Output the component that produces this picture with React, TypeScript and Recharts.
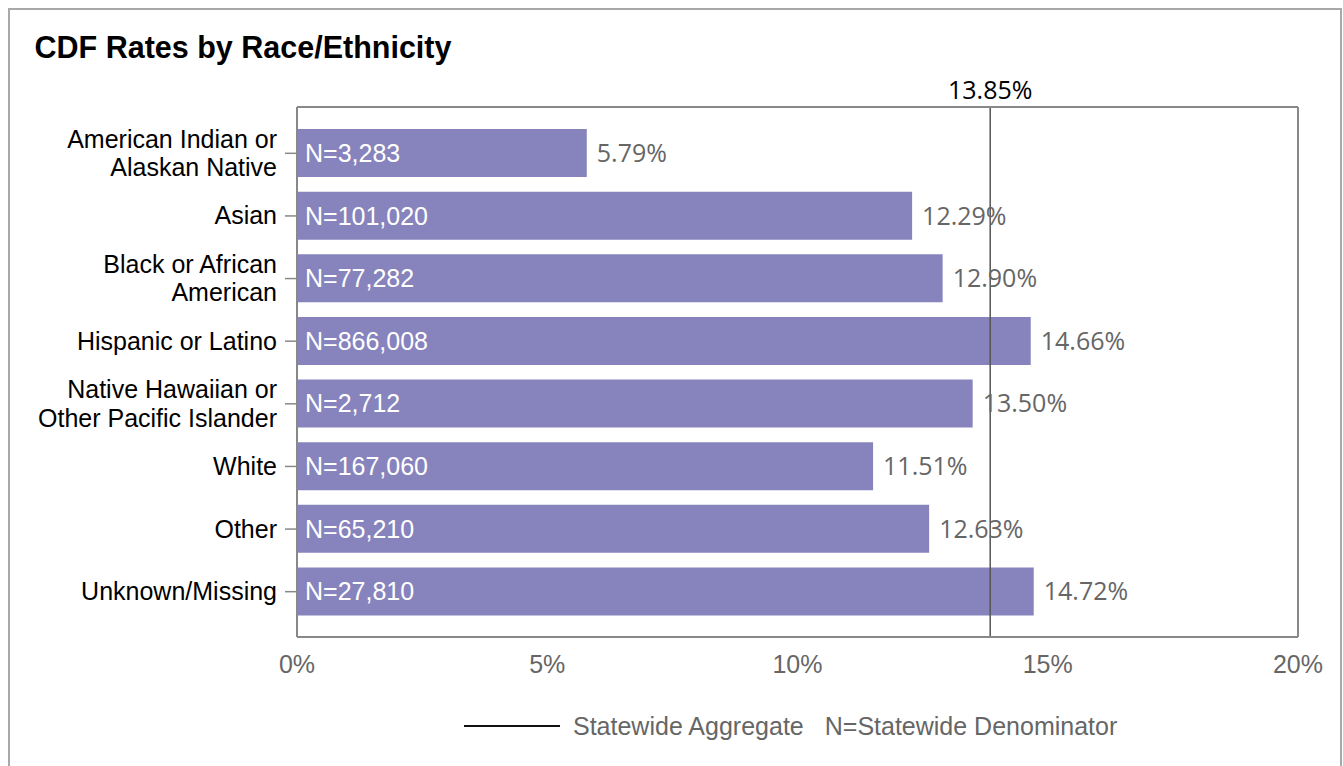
import { BarChart, Bar, XAxis, YAxis, ReferenceLine, LabelList } from 'recharts';

const categoryLines = [
  ['American Indian or', 'Alaskan Native'],
  ['Asian'],
  ['Black or African', 'American'],
  ['Hispanic or Latino'],
  ['Native Hawaiian or', 'Other Pacific Islander'],
  ['White'],
  ['Other'],
  ['Unknown/Missing'],
];
const rates = [5.79, 12.29, 12.9, 14.66, 13.5, 11.51, 12.63, 14.72];
const denominators = [3283, 101020, 77282, 866008, 2712, 167060, 65210, 27810];
const xTicks = [0, 5, 10, 15, 20];
const statewideRate = 13.85;

const chartData = categoryLines.map((lines, i) => ({
  category: lines.join(' '),
  value: rates[i],
  n: 'N=' + denominators[i].toLocaleString('en-US'),
}));

const SANS = '"Liberation Sans", Arial, sans-serif';
const OPEN = '"Open Sans", "Noto Sans", sans-serif';
const FRAME = { stroke: '#888', strokeWidth: 2 };

function CategoryTick({ x, y, payload }: any) {
  const idx = chartData.findIndex((d) => d.category === payload.value);
  const lines = categoryLines[idx] || [payload.value];
  const gap = 28.5;
  const start = y + 8.5 - ((lines.length - 1) * gap) / 2;
  return (
    <text x={x} y={start} textAnchor="end" fill="#000" fontSize={25} fontFamily={SANS}>
      {lines.map((l: string, i: number) => (
        <tspan key={i} x={x} y={start + i * gap}>
          {l}
        </tspan>
      ))}
    </text>
  );
}

export default function App() {
  return (
    <div
      style={{
        position: 'fixed',
        left: 8,
        top: 8,
        width: 1330,
        height: 770,
        border: '2px solid #a8a8a8',
        background: '#fff',
        fontFamily: SANS,
      }}
    >
      <div
        style={{
          position: 'absolute',
          left: 24.5,
          top: 21.5,
          fontSize: 30.5,
          lineHeight: '30px',
          fontWeight: 'bold',
          color: '#000',
          whiteSpace: 'nowrap',
        }}
      >
        CDF Rates by Race/Ethnicity
      </div>
      <div style={{ position: 'absolute', left: 0, top: 0 }}>
        <BarChart
          width={1330}
          height={756}
          data={chartData}
          layout="vertical"
          margin={{ top: 96, right: 41, bottom: 89, left: 0 }}
        >
          <XAxis
            type="number"
            domain={[0, 20]}
            ticks={xTicks}
            tickFormatter={(v) => `${v}%`}
            axisLine={FRAME}
            tickLine={false}
            tickSize={6}
            tickMargin={12}
            height={40}
            tick={{ fill: '#666', fontSize: 25, fontFamily: SANS }}
          />
          <XAxis
            xAxisId="top"
            orientation="top"
            type="number"
            domain={[0, 20]}
            height={1}
            tick={false}
            tickLine={false}
            axisLine={FRAME}
          />
          <YAxis
            type="category"
            dataKey="category"
            width={287}
            padding={{ top: 15, bottom: 14 }}
            axisLine={FRAME}
            tickLine={{ stroke: '#888', strokeWidth: 1.5 }}
            tickSize={12}
            tickMargin={8}
            tick={<CategoryTick />}
            interval={0}
          />
          <YAxis
            yAxisId="right"
            orientation="right"
            type="category"
            dataKey="category"
            width={1}
            tick={false}
            tickLine={false}
            axisLine={FRAME}
          />
          <Bar dataKey="value" fill="#8784bd" barSize={48} isAnimationActive={false}>
            <LabelList
              dataKey="n"
              position="insideLeft"
              offset={8}
              fill="#fff"
              fontSize={25}
              fontFamily={SANS}
            />
            <LabelList
              dataKey="value"
              position="right"
              offset={10}
              fill="#666"
              fontSize={25}
              fontFamily={OPEN}
              formatter={(v: any) => `${Number(v).toFixed(2)}%`}
            />
          </Bar>
          <ReferenceLine
            x={statewideRate}
            stroke="#555"
            strokeWidth={1.5}
            label={{
              value: `${statewideRate.toFixed(2)}%`,
              position: 'top',
              offset: 8,
              fill: '#000',
              fontSize: 25,
              fontFamily: OPEN,
            }}
          />
        </BarChart>
      </div>
      <div
        style={{
          position: 'absolute',
          left: 454,
          top: 701,
          height: 30,
          display: 'flex',
          alignItems: 'center',
          color: '#666',
          fontSize: 25,
          whiteSpace: 'nowrap',
        }}
      >
        <svg width={96} height={4} style={{ display: 'block' }}>
          <line x1={0} y1={2} x2={96} y2={2} stroke="#111" strokeWidth={2} />
        </svg>
        <span style={{ marginLeft: 13 }}>Statewide Aggregate</span>
        <span style={{ marginLeft: 21 }}>N=Statewide Denominator</span>
      </div>
    </div>
  );
}
